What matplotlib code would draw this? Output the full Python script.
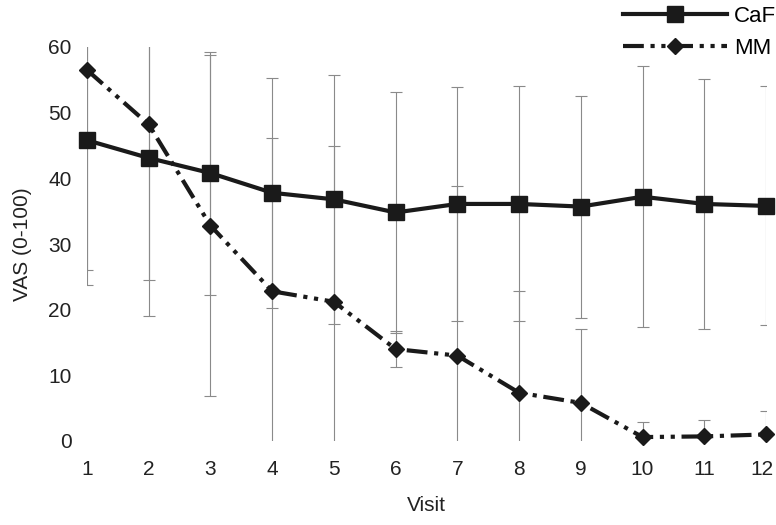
import matplotlib
matplotlib.use("Agg")
import matplotlib.pyplot as plt
import matplotlib.transforms as mtransforms

plt.rcParams['font.family'] = ['Liberation Sans', 'DejaVu Sans']

visits = [1, 2, 3, 4, 5, 6, 7, 8, 9, 10, 11, 12]
caf_mean = [45.8, 43.1, 40.8, 37.8, 36.8, 34.8, 36.1, 36.1, 35.7, 37.2, 36.1, 35.8]
caf_sd = [22.1, 24.1, 18.5, 17.5, 19.0, 18.3, 17.8, 17.9, 16.9, 19.9, 19.0, 18.2]
mm_mean = [56.5, 48.2, 32.8, 22.8, 21.2, 14.0, 13.0, 7.35, 5.8, 0.6, 0.7, 1.0]
mm_sd = [30.4, 23.7, 26.0, 23.3, 23.7, 2.7, 25.8, 15.5, 11.2, 2.3, 2.5, 3.5]

fig = plt.figure(figsize=(7.76, 5.25), dpi=100)
ax = fig.add_axes([87 / 776, 84 / 525, (766 - 87) / 776, (441 - 47) / 525])

# error bars (grey, clipped to the axes)
ax.errorbar(visits, caf_mean, yerr=caf_sd, fmt='none', ecolor='#8a8a8a',
            elinewidth=0.8, capsize=4.5, capthick=0.8)
ax.errorbar(visits, mm_mean, yerr=mm_sd, fmt='none', ecolor='#8a8a8a',
            elinewidth=0.8, capsize=4.5, capthick=0.8)

ax.plot(visits, caf_mean, color='#1a1a1a', lw=3, marker='s', ms=11,
        label='CaF', clip_on=False, zorder=5)
ax.plot(visits, mm_mean, color='#1a1a1a', lw=3, marker='D', ms=8.5,
        dashes=(5, 1.6, 1, 1.6, 1, 1.6), label='MM', clip_on=False, zorder=5)

ax.set_xlim(1, 12)
ax.set_ylim(0, 60)
ax.set_xticks(visits)
ax.set_yticks([0, 10, 20, 30, 40, 50, 60])
for s in ax.spines.values():
    s.set_visible(False)
ax.tick_params(length=0, labelsize=15, colors='#222222', pad=14)
ax.tick_params(axis='y', pad=11)
ax.set_xlabel('Visit', fontsize=15, color='#222222', labelpad=12)
ax.set_ylabel('VAS (0-100)', fontsize=15, color='#222222', labelpad=12)

# nudge the last x label so it stays inside the picture
last = ax.get_xticklabels()[-1]
last.set_transform(last.get_transform() +
                   mtransforms.ScaledTranslation(-4 / 100, 0, fig.dpi_scale_trans))

fig.legend(loc='upper left', bbox_to_anchor=(614 / 776, 1.0 + 3 / 525),
           frameon=False, fontsize=16, handlelength=4.7, handletextpad=0.3,
           labelspacing=0.5, borderaxespad=0, numpoints=1)

fig.savefig('out.png', dpi=100)
